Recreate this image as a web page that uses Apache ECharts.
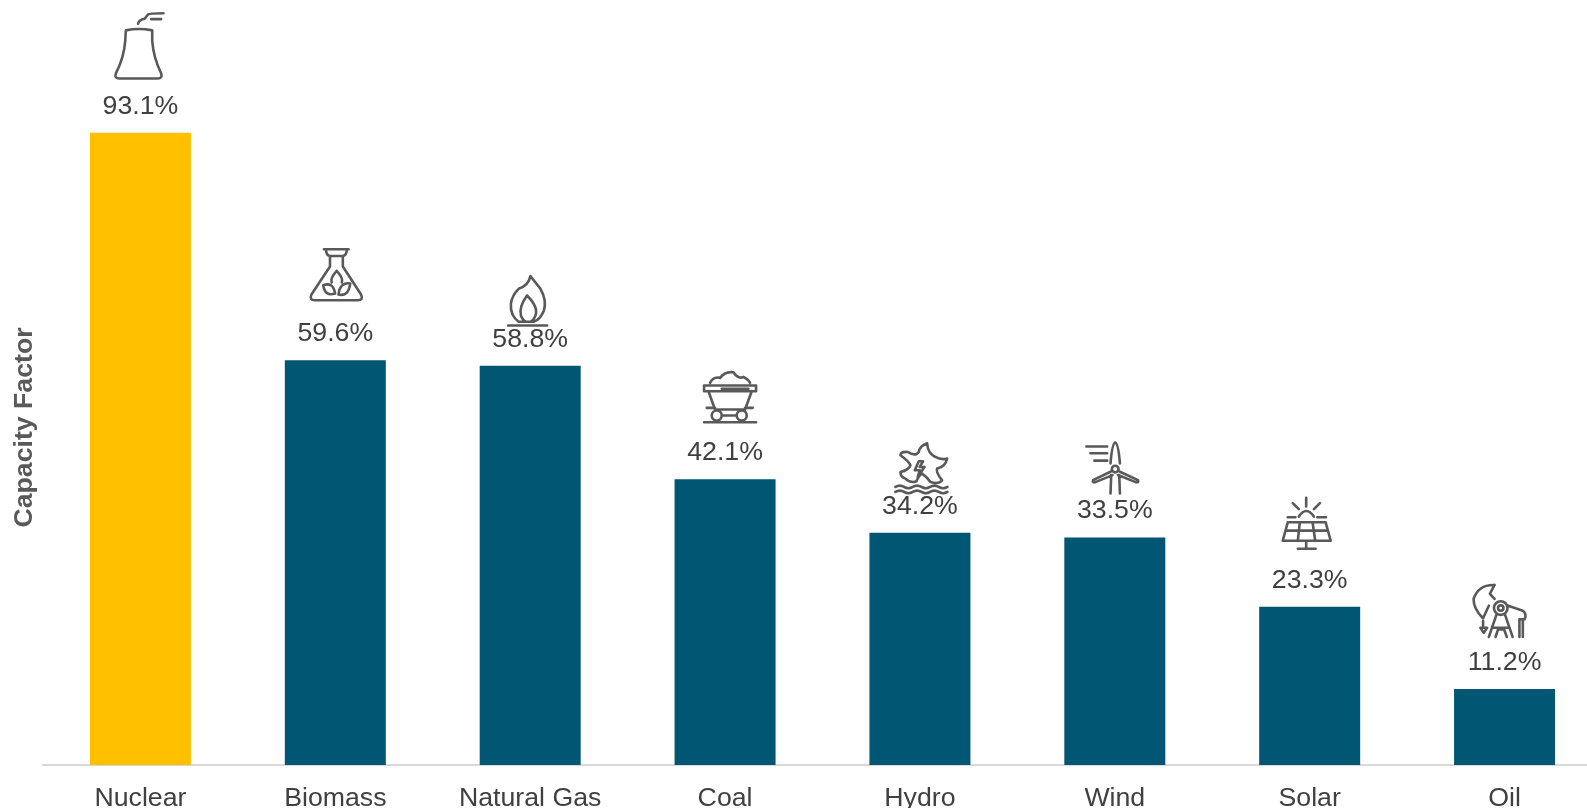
<!DOCTYPE html>
<html><head><meta charset="utf-8">
<style>html,body{margin:0;padding:0;background:#fff;overflow:hidden}#c{width:1587px;height:808px}</style>
<script src="https://cdn.jsdelivr.net/npm/echarts@6/dist/echarts.min.js"></script>
</head><body><div id="c"></div>
<script>
const categories = ['Nuclear','Biomass','Natural Gas','Coal','Hydro','Wind','Solar','Oil'];
const capacityFactor = [93.1,59.6,58.8,42.1,34.2,33.5,23.3,11.2];
const axisTitle = 'Capacity Factor';

// Icon outlines, one per category, fitted to the boxes below
const iconPaths = [
 'M138 92 Q178 84 218 92 L218 125 Q222 175 245 222 Q250 238 235 238 L118 238 Q102 238 108 222 Q132 175 136 125 Z M175 72 Q178 60 195 57 L205 44 Q210 40 252 40 M215 58 L245 58',
 'M132 44 L205 44 M138 44 Q138 62 150 64 L188 64 Q200 62 200 44 M150 64 L150 95 L95 178 Q88 195 105 195 L232 195 Q250 195 242 178 L188 95 L188 64 M130 150 Q160 140 165 175 Q135 185 130 150 Z M210 145 Q180 140 175 178 Q205 185 210 145 Z M170 108 Q150 130 155 142 M170 108 Q190 130 185 142',
 'M750 122 Q760 135 780 160 Q800 195 790 225 Q780 250 760 258 L715 258 Q690 240 692 205 Q695 180 715 160 Q745 150 750 122 Z M740 180 Q715 215 722 240 Q728 255 738 258 M740 180 Q775 215 765 240 Q758 255 750 258 M684 269 L800 269',
 'M120 80 Q130 60 150 65 Q165 45 190 48 Q205 70 220 62 Q235 70 240 80 M102 88 L258 88 L258 105 L102 105 Z M155 98 L235 98 M115 105 L135 160 L225 160 L245 105 M110 155 L135 155 M225 155 L248 155 M125 178 a15 15 0 1 0 30 0 a15 15 0 1 0 -30 0 M200 178 a15 15 0 1 0 30 0 a15 15 0 1 0 -30 0 M155 178 L200 178 M102 198 L258 198',
 'M770 264 Q772 295 795 305 Q812 315 830 310 Q825 335 800 340 Q795 350 815 375 Q805 388 780 380 Q770 365 755 355 Q745 360 738 378 Q720 385 705 370 Q690 365 690 350 Q715 345 720 330 Q715 318 690 300 Q690 288 712 290 Q735 305 745 290 Q748 272 770 264 Z M745 318 L733 345 L748 345 L742 365 L762 335 L748 335 L758 318 Z M675 395 q13 -8 26 0 t26 0 t26 0 t26 0 t26 0 t26 0 M675 410 q13 -8 26 0 t26 0 t26 0 t26 0 t26 0 t26 0',
 'M182 135 L180 190 M206 135 L208 190 M180 100 Q185 40 194 38 Q203 40 208 100 M184 117 a10 10 0 1 0 20 0 a10 10 0 1 0 -20 0 M180 125 L128 150 Q125 158 135 156 L186 135 M208 125 L262 150 Q265 158 255 156 L202 135 M108 50 L170 50 M120 70 L170 70 M132 92 L170 92',
 'M767 202 L767 228 M727 218 L745 236 M808 218 L790 236 M745 258 Q767 225 790 258 M712 260 L735 260 M800 260 L826 260 M712 275 L825 275 L840 330 L697 330 Z M705 300 L832 300 M748 275 L742 330 M786 275 L794 330 M767 330 L767 352 M742 354 L795 354',
 'M222 44 Q175 42 160 85 Q160 115 188 142 L205 105 M222 44 L208 70 L222 85 M188 150 L188 170 L180 170 L190 185 L200 170 L190 170 M220 112 a20 20 0 1 0 40 0 a20 20 0 1 0 -40 0 M232 112 a8 8 0 1 0 16 0 a8 8 0 1 0 -16 0 M228 130 L205 197 M252 130 L275 197 M215 170 L265 170 M225 197 L232 175 L250 175 L258 197 M262 105 L305 120 Q318 130 310 145 L295 145 L295 197 M305 145 L305 197'
];
// Placement of each icon relative to its bar top
const iconWidth  = [48,52,39,52,52,52,48,52];
const iconHeight = [68,51,50,52,51,51,51,52];
const iconShift  = [-1,1,-2.5,5,1.5,-2.5,-3,-5];
const iconLift   = [53,60,40,56,39,44,58,52];

const barColor = '#005673', leadColor = '#FFC000', textColor = '#404040';
const chart = echarts.init(document.getElementById('c'), null, {renderer:'canvas'});
chart.setOption({
  animation:false,
  backgroundColor:'#fff',
  grid:{left:43,top:86,width:1559,height:679,containLabel:false,outerBoundsMode:'none'},
  xAxis:{type:'category',data:categories,
    axisLine:{lineStyle:{color:'#D9D9D9',width:2}},axisTick:{show:false},
    axisLabel:{color:textColor,fontFamily:'Liberation Sans',fontSize:26.7,margin:20,interval:0}},
  yAxis:{type:'value',min:0,max:100,show:true,
    name:axisTitle,nameLocation:'middle',nameGap:5,nameRotate:90,
    nameTextStyle:{color:'#595959',fontFamily:'Liberation Sans',fontWeight:'bold',fontSize:26.7,padding:[0,4,0,0]},
    axisLine:{show:false},axisTick:{show:false},axisLabel:{show:false},splitLine:{show:false}},
  series:[
   {type:'bar',barWidth:101,
    data:capacityFactor.map((v,i)=>({value:v,itemStyle:{color:i===0?leadColor:barColor}})),
    label:{show:true,position:'top',distance:13,color:textColor,fontFamily:'Liberation Sans',fontSize:26.7,
      formatter:p=>p.value.toFixed(1)+'%'}},
   {type:'custom',silent:true,clip:false,
    data:capacityFactor.map((v,i)=>[i,v]),
    encode:{x:0,y:1},
    renderItem:(params,api)=>{
      const i=api.value(0), p=api.coord([i,api.value(1)]);
      const w=iconWidth[i],h=iconHeight[i];
      return {type:'path',
        shape:{pathData:iconPaths[i],layout:'center',
          x:p[0]+iconShift[i]-w/2,y:p[1]-iconLift[i]-h,width:w,height:h},
        style:{fill:'none',stroke:'#595959',lineWidth:2.6,lineCap:'round',lineJoin:'round'}};
    }}
  ]
});
</script></body></html>
